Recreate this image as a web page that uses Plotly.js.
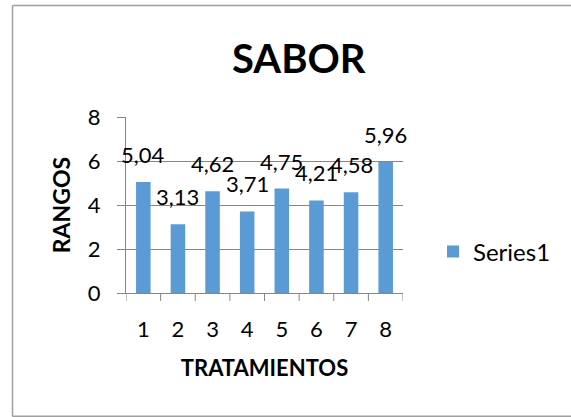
<!DOCTYPE html>
<html><head><meta charset="utf-8">
<script src="https://cdn.plot.ly/plotly-3.0.1.min.js"></script>
<style>html,body{margin:0;padding:0;background:#fff;overflow:hidden;}#c{width:571px;height:417px;}</style>
</head><body><div id="c"></div>
<script>
const categories = ["1","2","3","4","5","6","7","8"];
const values = [5.04, 3.13, 4.62, 3.71, 4.75, 4.21, 4.58, 5.96];
const labels = ["5,04","3,13","4,62","3,71","4,75","4,21","4,58","5,96"];
const yTicks = [0, 2, 4, 6, 8];

const W = 571, H = 417;
const L = 126, R = 403, T = 117, B = 293;
const pw = R - L, ph = B - T;
const px = x => (x - L) / pw;
const py = y => (B - y) / ph;

const font = "Lato, 'Open Sans', 'Liberation Sans', sans-serif";
const grey = "#868686";

const trace = {
  type: "bar",
  x: categories,
  y: values,
  name: "Series1",
  width: 0.42,
  marker: {color: "#5B9BD5"},
  showlegend: true,
  hoverinfo: "none"
};

const annotations = categories.map((c, i) => ({
  x: i, y: values[i], xref: "x", yref: "y",
  text: labels[i], showarrow: false,
  yanchor: "bottom", yshift: 12,
  font: {family: font, size: 22, color: "#000"}
}));
annotations.push({
  xref: "paper", yref: "paper", x: px(299), y: py(58),
  text: "<b>SABOR</b>", showarrow: false, xanchor: "center", yanchor: "middle",
  font: {family: font, size: 40, color: "#000"}
});

const tickShapes = [];
for (let k = 0; k <= categories.length; k++) {
  tickShapes.push({
    type: "line", xref: "x", yref: "paper",
    x0: k - 0.5, x1: k - 0.5, y0: 0, y1: -8 / ph,
    line: {color: grey, width: 1}
  });
}

const layout = {
  width: W, height: H,
  margin: {l: L, r: W - R, t: T, b: H - B, pad: 0},
  paper_bgcolor: "#fff", plot_bgcolor: "#fff",
  showlegend: true,
  legend: {x: px(433), y: py(252), xanchor: "left", yanchor: "middle",
    font: {family: font, size: 24, color: "#000"}, itemwidth: 30},
  xaxis: {
    type: "category", range: [-0.5, 7.5],
    showline: true, linecolor: grey, linewidth: 1,
    ticks: "", showgrid: false, zeroline: false,
    tickfont: {family: font, size: 22, color: "#000"},
    ticklabelstandoff: 17,
    title: {text: "<b>TRATAMIENTOS</b>", font: {family: font, size: 22, color: "#000"}, standoff: 19}
  },
  yaxis: {
    range: [0, 8], tickvals: yTicks,
    showline: true, linecolor: grey, linewidth: 1,
    ticks: "outside", ticklen: 8, tickcolor: grey,
    showgrid: true, gridcolor: grey, gridwidth: 1, zeroline: false,
    tickfont: {family: font, size: 22, color: "#000"},
    ticklabelstandoff: 12,
    title: {text: "<b>RANGOS</b>", font: {family: font, size: 23, color: "#000"}, standoff: 10}
  },
  annotations: annotations,
  shapes: [
    {type: "line", xref: "paper", yref: "paper", x0: px(12.5), x1: px(12.5), y0: py(5.5), y1: py(416.5), line: {color: "#A0A0A0", width: 1.5}},
    {type: "line", xref: "paper", yref: "paper", x0: px(12.5), x1: px(571), y0: py(5.5), y1: py(5.5), line: {color: "#A0A0A0", width: 1.5}},
    {type: "line", xref: "paper", yref: "paper", x0: px(12.5), x1: px(571), y0: py(416.2), y1: py(416.2), line: {color: "#A0A0A0", width: 1.5}}
  ].concat(tickShapes)
};

Plotly.newPlot("c", [trace], layout, {staticPlot: true, displayModeBar: false});
</script></body></html>
